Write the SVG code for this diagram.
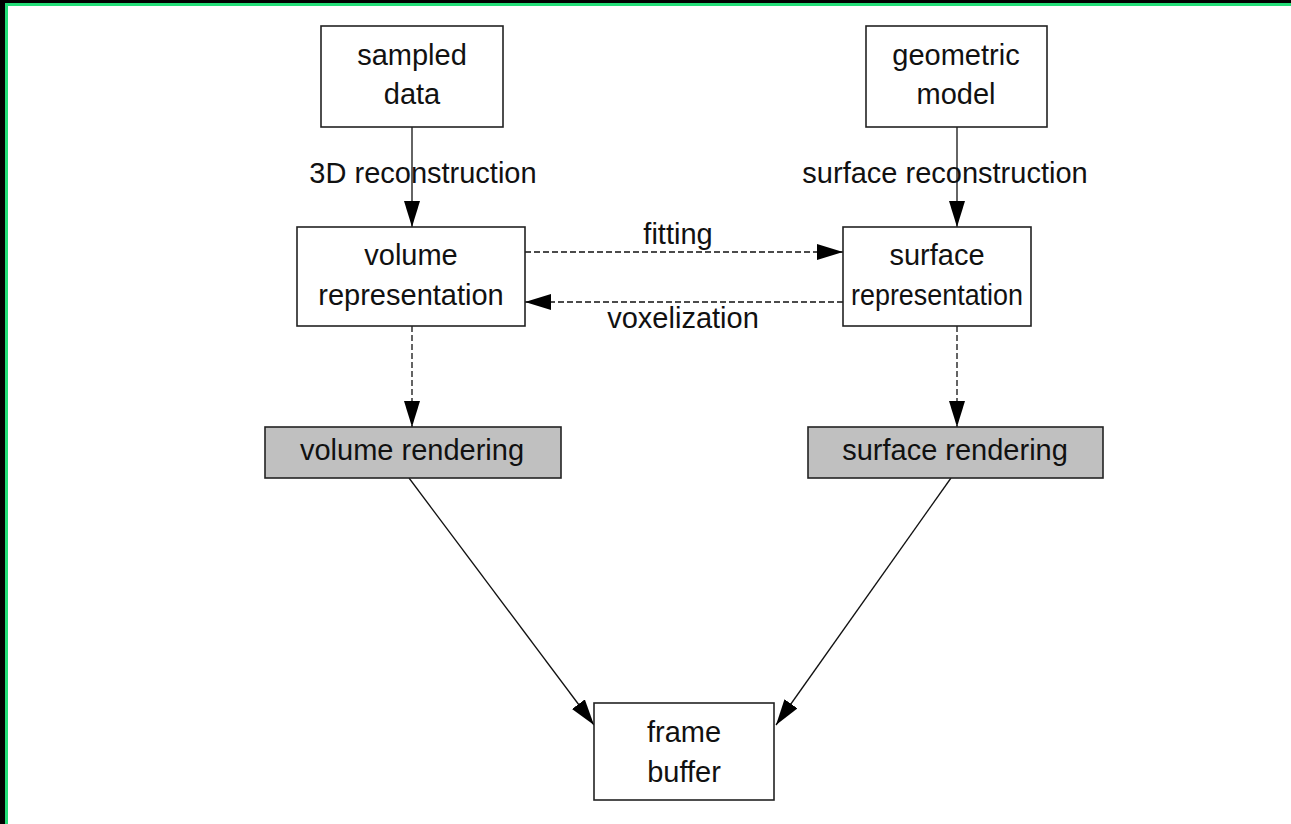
<svg xmlns="http://www.w3.org/2000/svg" width="1291" height="824" viewBox="0 0 1291 824">
<defs>
<style>
.box{fill:#fff;stroke:#222;stroke-width:1.6}
.gray{fill:#c0c0c0;stroke:#222;stroke-width:1.6}
.t{font-family:"Liberation Sans",Arial,sans-serif;font-size:29px;fill:#111;text-anchor:middle}
.ln{stroke:#111;stroke-width:1.3;fill:none}
.dash{stroke:#111;stroke-width:1.3;fill:none;stroke-dasharray:6 3}
</style>
<marker id="ah" markerWidth="26" markerHeight="16" refX="26" refY="8" orient="auto" markerUnits="userSpaceOnUse">
<path d="M0,0 L26,8 L0,16 Z" fill="#000"/>
</marker>
</defs>
<rect width="1291" height="824" fill="#fff"/>
<rect x="0" y="0" width="1291" height="3" fill="#000"/>
<rect x="0" y="0" width="5" height="824" fill="#000"/>
<rect x="5" y="3" width="1286" height="3" fill="#22dd77"/>
<rect x="5" y="3" width="3" height="821" fill="#22dd77"/>

<g id="connectors">
<line class="ln" x1="412" y1="127" x2="412" y2="227" marker-end="url(#ah)"/>
<line class="ln" x1="957" y1="127" x2="957" y2="227" marker-end="url(#ah)"/>
<line class="dash" x1="525" y1="252" x2="843" y2="252" marker-end="url(#ah)"/>
<line class="dash" x1="843" y1="302" x2="525" y2="302" marker-end="url(#ah)"/>
<line class="dash" x1="412" y1="326" x2="412" y2="427" marker-end="url(#ah)"/>
<line class="dash" x1="957" y1="326" x2="957" y2="427" marker-end="url(#ah)"/>
<line class="ln" x1="409" y1="478" x2="594" y2="725" marker-end="url(#ah)"/>
<line class="ln" x1="951" y1="478" x2="776" y2="725" marker-end="url(#ah)"/>
<text class="t" x="423" y="183">3D reconstruction</text>
<text class="t" x="945" y="183">surface reconstruction</text>
<text class="t" x="678" y="244">fitting</text>
<text class="t" x="683" y="328">voxelization</text>
</g>

<g id="sampled-data">
<rect class="box" x="321" y="26" width="182" height="101"/>
<text class="t" x="412" y="65">sampled</text>
<text class="t" x="412" y="104">data</text>
</g>
<g id="geometric-model">
<rect class="box" x="866" y="26" width="181" height="101"/>
<text class="t" x="956" y="65">geometric</text>
<text class="t" x="956" y="104">model</text>
</g>
<g id="volume-representation">
<rect class="box" x="297" y="227" width="228" height="99"/>
<text class="t" x="411" y="265">volume</text>
<text class="t" x="411" y="305">representation</text>
</g>
<g id="surface-representation">
<rect class="box" x="843" y="227" width="188" height="99"/>
<text class="t" x="937" y="265">surface</text>
<text class="t" x="937" y="305" textLength="172" lengthAdjust="spacingAndGlyphs">representation</text>
</g>
<g id="volume-rendering">
<rect class="gray" x="265" y="427" width="296" height="51"/>
<text class="t" x="412" y="460">volume rendering</text>
</g>
<g id="surface-rendering">
<rect class="gray" x="808" y="427" width="295" height="51"/>
<text class="t" x="955" y="460">surface rendering</text>
</g>
<g id="frame-buffer">
<rect class="box" x="594" y="703" width="180" height="97"/>
<text class="t" x="684" y="742">frame</text>
<text class="t" x="684" y="782">buffer</text>
</g>
</svg>
